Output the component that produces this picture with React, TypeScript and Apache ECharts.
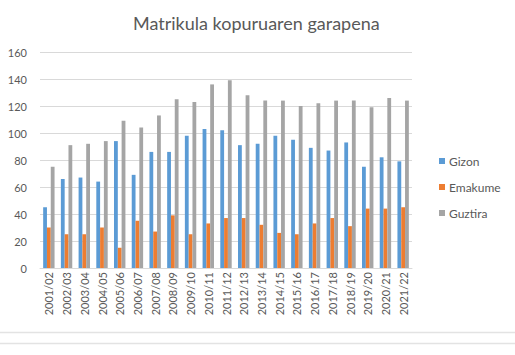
import React, { useEffect, useRef } from "react";
import * as echarts from "echarts";

const categories = [
  "2001/02", "2002/03", "2003/04", "2004/05", "2005/06", "2006/07", "2007/08",
  "2008/09", "2009/10", "2010/11", "2011/12", "2012/13", "2013/14", "2014/15",
  "2015/16", "2016/17", "2017/18", "2018/19", "2019/20", "2020/21", "2021/22",
];
const gizon = [45, 66, 67, 64, 94, 69, 86, 86, 98, 103, 102, 91, 92, 98, 95, 89, 87, 93, 75, 82, 79];
const emakume = [30, 25, 25, 30, 15, 35, 27, 39, 25, 33, 37, 37, 32, 26, 25, 33, 37, 31, 44, 44, 45];
const guztira = [75, 91, 92, 94, 109, 104, 113, 125, 123, 136, 139, 128, 124, 124, 120, 122, 124, 124, 119, 126, 124];
const seriesNames = ["Gizon", "Emakume", "Guztira"];
const colors = ["#5B9BD5", "#ED7D31", "#A5A5A5"];

const FONT = "Lato, 'Open Sans', sans-serif";
const TEXT = "#595959";

export default function App() {
  const ref = useRef<HTMLDivElement>(null);
  useEffect(() => {
    if (!ref.current) return;
    const chart = echarts.init(ref.current, null, { renderer: "svg" });
    const data = [gizon, emakume, guztira];
    chart.setOption({
      animation: false,
      backgroundColor: "#ffffff",
      textStyle: { fontFamily: FONT },
      title: {
        text: "Matrikula kopuruaren garapena",
        left: 128,
        top: 9,
        textStyle: { fontFamily: FONT, fontSize: 18, fontWeight: "normal", color: TEXT },
      },
      legend: {
        orient: "vertical",
        left: 434,
        top: 150,
        itemWidth: 6,
        itemHeight: 6,
        itemGap: 14,
        icon: "rect",
        data: seriesNames,
        textStyle: { fontFamily: FONT, fontSize: 12, color: TEXT, padding: [0, 0, 0, -1] },
      },
      grid: { left: 40, right: 103, top: 52, bottom: 87, containLabel: false },
      xAxis: {
        type: "category",
        data: categories,
        axisLine: { lineStyle: { color: "#d9d9d9", width: 1 } },
        axisTick: { show: false },
        axisLabel: {
          rotate: 90,
          interval: 0,
          margin: 4,
          fontFamily: FONT,
          fontSize: 11,
          color: TEXT,
        },
      },
      yAxis: {
        type: "value",
        min: 0,
        max: 160,
        interval: 20,
        axisLine: { show: false },
        axisTick: { show: false },
        splitLine: { lineStyle: { color: "#d9d9d9", width: 1 } },
        axisLabel: { fontFamily: FONT, fontSize: 11, color: TEXT, margin: 13 },
      },
      graphic: [
        { type: "line", shape: { x1: 0, y1: 332.5, x2: 515, y2: 332.5 }, style: { stroke: "#e3e3e3", lineWidth: 1.5 } },
        { type: "line", shape: { x1: 0, y1: 343.5, x2: 515, y2: 343.5 }, style: { stroke: "#e3e3e3", lineWidth: 1.5 } },
      ],
      series: seriesNames.map((name, i) => ({
        name,
        type: "bar",
        data: data[i],
        barWidth: 3.8,
        barGap: "0%",
        itemStyle: { color: colors[i] },
      })),
    });
    return () => chart.dispose();
  }, []);
  return (
    <div
      ref={ref}
      style={{ position: "fixed", left: 0, top: 0, width: 515, height: 355, background: "#fff" }}
    />
  );
}
